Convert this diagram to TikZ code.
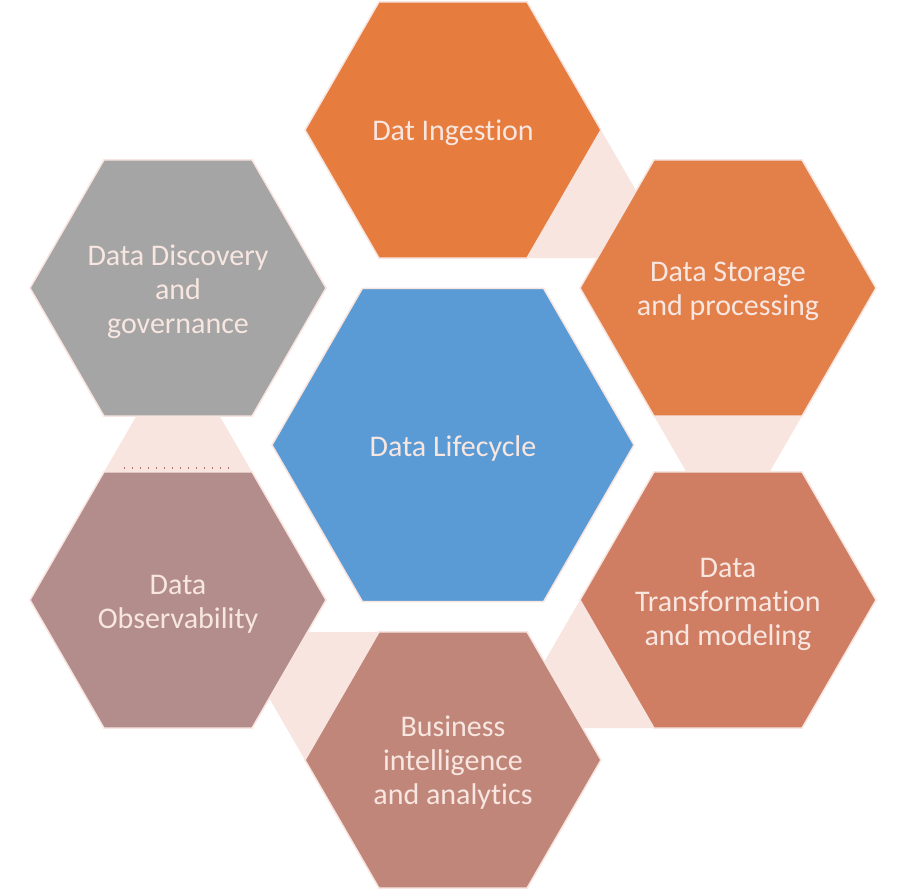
\documentclass[tikz,border=0pt]{standalone}
\usepackage{fontspec}
\setmainfont[Ligatures=NoCommon]{Carlito}
\definecolor{ingc}{HTML}{E67C3E}
\definecolor{stoc}{HTML}{E3804A}
\definecolor{trac}{HTML}{CF7E63}
\definecolor{busc}{HTML}{C1867A}
\definecolor{obsc}{HTML}{B38D8B}
\definecolor{disc}{HTML}{A5A5A5}
\definecolor{lifc}{HTML}{5B9BD5}
\definecolor{linkc}{HTML}{F8E5DF}
\definecolor{txtc}{HTML}{F8E6E0}
\definecolor{dotc}{HTML}{B07068}
\begin{document}
\begin{tikzpicture}[x=1pt,y=-1pt,
  lbl/.style={text=txtc, font=\fontsize{30}{34}\selectfont, align=center, inner sep=0pt},
  hexborder/.style={draw=linkc, line width=1.5pt, line join=miter},
  linkfill/.style={fill=linkc},
  pics/hexa/.style args={#1/#2}{code={
    \filldraw[fill=#2, hexborder] (#1,0) -- (#1/2,0.866*#1) -- (-#1/2,0.866*#1) -- (-#1,0) -- (-#1/2,-0.866*#1) -- (#1/2,-0.866*#1) -- cycle;}}
]
\useasboundingbox (0,0) rectangle (906,891);
% connector triangles
\fill[linkfill] (601,130) -- (527,258) -- (675,258) -- cycle;
\fill[linkfill] (654,416) -- (802,416) -- (728,544) -- cycle;
\fill[linkfill] (580,600) -- (654,728) -- (506,728) -- cycle;
\fill[linkfill] (305,760) -- (379,632) -- (231,632) -- cycle;
\fill[linkfill] (104,472) -- (252,472) -- (178,344) -- cycle;
\draw[dotc, line width=1.1pt, dash pattern=on 1pt off 7pt] (124,468) -- (230,468);
% hexagons
\pic at (453,130) {hexa=148/ingc};
\pic at (728,288) {hexa=148/stoc};
\pic at (728,600) {hexa=148/trac};
\pic at (453,760) {hexa=148/busc};
\pic at (178,600) {hexa=148/obsc};
\pic at (178,288) {hexa=148/disc};
\pic at (453,445) {hexa=181/lifc};
% labels
\node[lbl] (ing) at (453,133) {Dat Ingestion};
\node[lbl] (sto) at (728,291) {Data Storage\\and processing};
\node[lbl] (tra) at (728,604) {Data\\Transformation\\and modeling};
\node[lbl] (bus) at (453,763) {Business\\intelligence\\and analytics};
\node[lbl] (obs) at (178,604) {Data\\Observability};
\node[lbl] (dis) at (178,292) {Data Discovery\\and\\governance};
\node[lbl] (lif) at (453,448) {Data Lifecycle};
\end{tikzpicture}
\end{document}
